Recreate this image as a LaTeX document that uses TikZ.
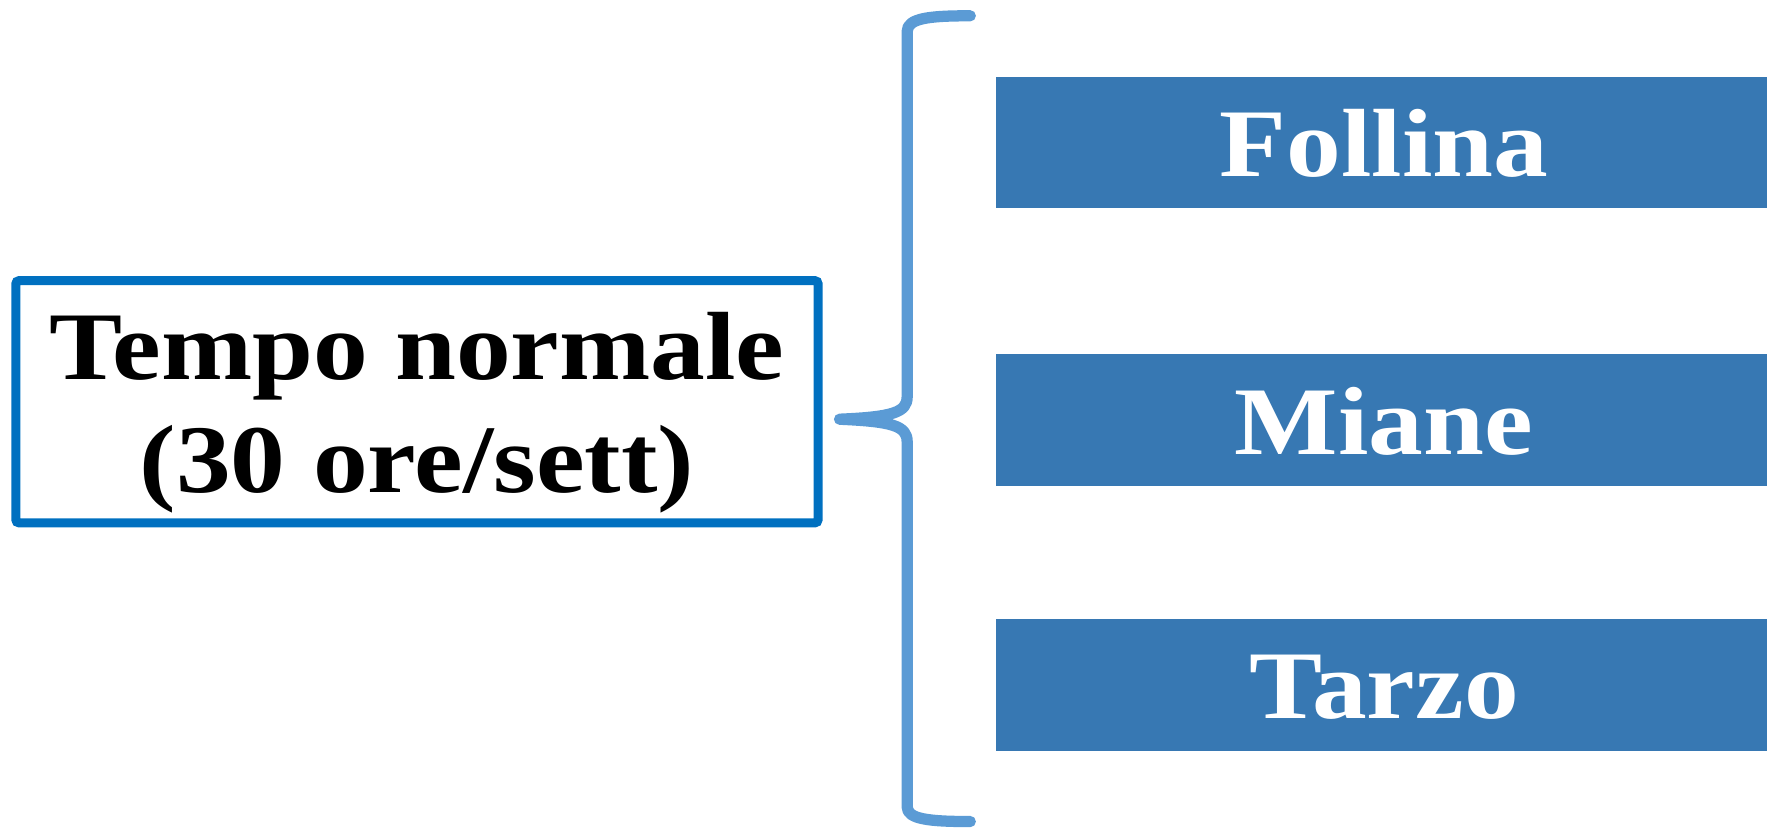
\documentclass[tikz,border=0pt]{standalone}
\usepackage{fontspec}
\usepackage{graphicx}
\setmainfont{Liberation Serif}
\definecolor{boxblue}{HTML}{0070C0}
\definecolor{braceblue}{HTML}{5B9BD5}
\definecolor{fillblue}{HTML}{3778B3}
\newcommand{\xs}[1]{\scalebox{1.13}[1]{#1}}
\tikzset{
  leftbox/.style={draw=boxblue, line width=4pt, rounded corners=1.5pt, minimum width=356pt, minimum height=107.5pt, inner sep=0pt},
  lbl/.style={anchor=base, inner sep=0pt, font=\fontsize{43}{50}\selectfont\bfseries, text=black},
  rbox/.style={fill=fillblue, draw=none, minimum width=342pt, minimum height=58.5pt, inner sep=0pt},
  rtext/.style={anchor=base, inner sep=0pt, font=\fontsize{43}{50}\selectfont\bfseries, text=white},
  bracestyle/.style={draw=braceblue, line width=5pt, line cap=round, line join=round}
}
\begin{document}
\begin{tikzpicture}[x=0.5pt,y=-0.5pt]
\useasboundingbox (0,0) rectangle (1568,735.6);
% left box
\node[leftbox] (box) at (370,356.5) {};
\node[lbl] (l1) at (370,337) {\xs{Tempo normale}};
\node[lbl] (l2) at (370,437) {\xs{(30 ore/sett)}};
% right boxes
\node[rbox] (b1) at (1226,126.5) {};
\node[rbox] (b2) at (1226,372.5) {};
\node[rbox] (b3) at (1226,607.5) {};
\node[rtext] (t1) at (1228,157) {\xs{Follina}};
\node[rtext] (t2) at (1228,403) {\xs{Miane}};
\node[rtext] (t3) at (1228,638) {\xs{Tarzo}};
% brace
\coordinate (btop) at (861,14);
\coordinate (btip) at (745,372);
\coordinate (bbot) at (861,729);
\draw[bracestyle] (btop) .. controls (825,14) and (805,16) .. (805,28)
  -- (805,352) .. controls (805,366) and (792,370) .. (btip)
  .. controls (792,374) and (805,378) .. (805,392)
  -- (805,716) .. controls (805,727) and (825,729) .. (bbot);
\end{tikzpicture}
\end{document}
